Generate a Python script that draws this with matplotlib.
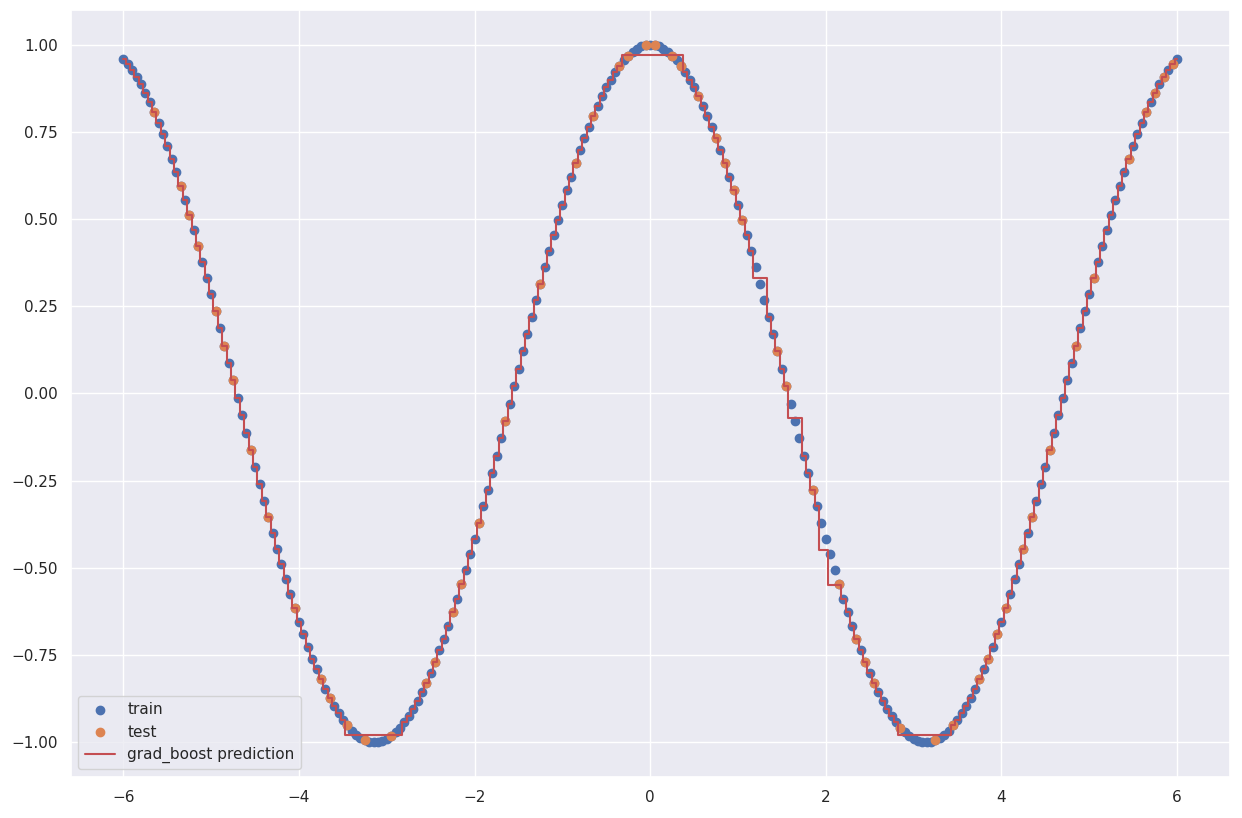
import matplotlib
matplotlib.use("Agg")
import matplotlib.pyplot as plt
import numpy as np
import seaborn as sns

# train points: |x| from 0 to 6 in steps of 0.05 (curve is symmetric)
train_mag = [round(0.05 * i, 2) for i in range(121)]
train_y_half = [
    1.000, .999, .995, .989, .980, .969, .955, .939, .921, .900,
    .878, .853, .825, .796, .765, .732, .697, .660, .622, .582,
    .540, .498, .454, .409, .362, .315, .267, .219, .170, .121,
    .071, .021, -.029, -.079, -.129, -.178, -.227, -.276, -.323, -.370,
    -.416, -.461, -.505, -.547, -.589, -.628, -.666, -.703, -.737, -.770,
    -.801, -.830, -.857, -.881, -.904, -.924, -.942, -.958, -.971, -.982,
    -.990, -.996, -.999, -1.000, -.998, -.994, -.987, -.978, -.967, -.952,
    -.936, -.917, -.897, -.873, -.848, -.820, -.791, -.760, -.726, -.691,
    -.654, -.615, -.575, -.533, -.490, -.446, -.401, -.354, -.307, -.260,
    -.211, -.162, -.112, -.062, -.012, .038, .087, .137, .187, .236,
    .284, .331, .378, .424, .469, .512, .554, .595, .635, .672,
    .709, .743, .776, .806, .835, .861, .886, .908, .927, .945,
    .960,
]
train_x = [-m for m in train_mag[:0:-1]] + train_mag
train_y = train_y_half[:0:-1] + train_y_half

test_x = [-5.65, -5.35, -5.25, -5.15, -4.95, -4.85, -4.75, -4.55, -4.35, -4.05,
          -3.75, -3.65, -3.45, -3.25, -2.95, -2.55, -2.45, -2.25, -2.15, -1.95,
          -1.65, -1.25, -0.85, -0.65, -0.35, -0.25, -0.05, 0.05, 0.25, 0.35,
          0.55, 0.75, 0.85, 0.95, 1.05, 1.45, 1.55, 1.85, 2.15, 2.35,
          2.45, 2.55, 2.85, 3.25, 3.45, 3.75, 3.85, 3.95, 4.05, 4.25,
          4.35, 4.55, 4.85, 5.05, 5.45, 5.65, 5.75, 5.85, 5.95]
test_y = [.806, .595, .512, .424, .236, .137, .038, -.162, -.354, -.615,
          -.820, -.873, -.952, -.994, -.982, -.830, -.770, -.628, -.547, -.370,
          -.079, .315, .660, .796, .939, .969, .999, .999, .969, .939,
          .853, .732, .660, .582, .498, .121, .021, -.276, -.547, -.703,
          -.770, -.830, -.958, -.994, -.952, -.820, -.760, -.691, -.615, -.446,
          -.354, -.162, .137, .331, .672, .806, .861, .908, .945]

# flat plateaus of the prediction (x from, x to, level)
flat_regions = [(-3.45, -2.85, -0.98), (-0.3, 0.35, 0.97), (2.85, 3.4, -0.98),
                (1.2, 1.3, 0.33), (1.6, 1.7, -0.07), (1.92, 2.0, -0.45), (2.05, 2.15, -0.55)]

# prediction hugs the train points in fine steps, except on the plateaus
pred_x = list(train_x)
pred_y = list(train_y)
for i, x in enumerate(pred_x):
    for a, b, lvl in flat_regions:
        if a <= x <= b:
            pred_y[i] = lvl

sns.set_theme()
fig, ax = plt.subplots(figsize=(12.42, 8.18), dpi=100)
ax.scatter(train_x, train_y, label="train")
ax.scatter(test_x, test_y, label="test")
ax.step(pred_x, pred_y, where="mid", color="C3", label="grad_boost prediction")
ax.legend(loc="lower left")
plt.subplots_adjust(left=0.057, right=0.99, top=0.988, bottom=0.05)
fig.savefig("out.png")
